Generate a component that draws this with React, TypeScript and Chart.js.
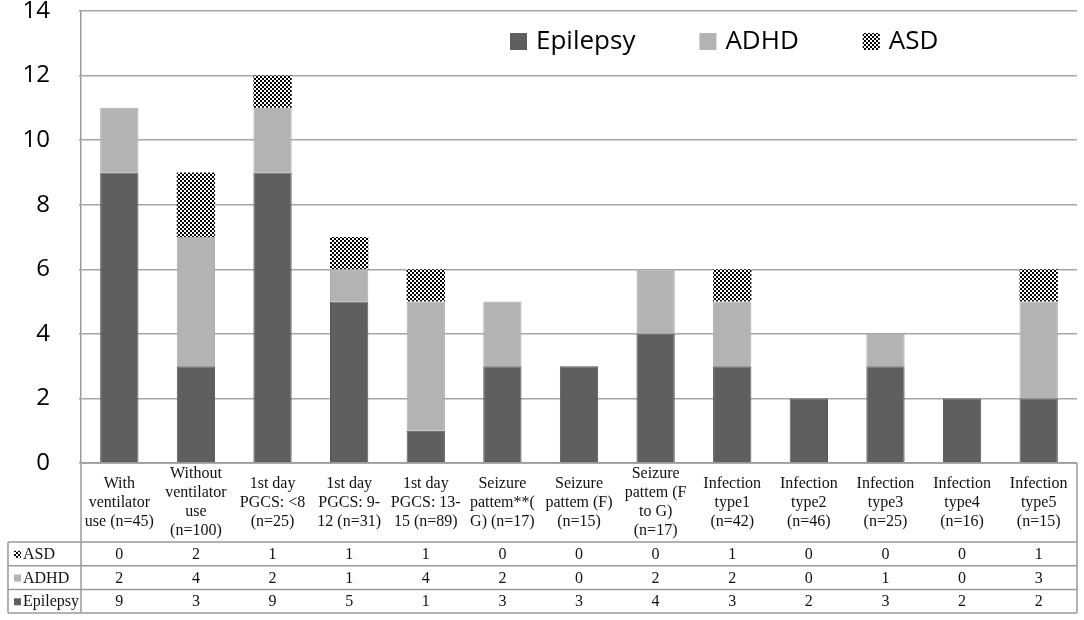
import React, { useEffect, useRef } from "react";
import { Chart, registerables } from "chart.js";

Chart.register(...registerables);

const categories: string[][] = [
  ["With", "ventilator", "use (n=45)"],
  ["Without", "ventilator", "use", "(n=100)"],
  ["1st day", "PGCS: <8", "(n=25)"],
  ["1st day", "PGCS: 9-", "12 (n=31)"],
  ["1st day", "PGCS: 13-", "15 (n=89)"],
  ["Seizure", "pattem**(", "G) (n=17)"],
  ["Seizure", "pattem (F)", "(n=15)"],
  ["Seizure", "pattem (F", "to G)", "(n=17)"],
  ["Infection", "type1", "(n=42)"],
  ["Infection", "type2", "(n=46)"],
  ["Infection", "type3", "(n=25)"],
  ["Infection", "type4", "(n=16)"],
  ["Infection", "type5", "(n=15)"],
];

const epilepsy = [9, 3, 9, 5, 1, 3, 3, 4, 3, 2, 3, 2, 2];
const adhd = [2, 4, 2, 1, 4, 2, 0, 2, 2, 0, 1, 0, 3];
const asd = [0, 2, 1, 1, 1, 0, 0, 0, 1, 0, 0, 0, 1];

const seriesNames = ["Epilepsy", "ADHD", "ASD"];
const yTicks = [0, 2, 4, 6, 8, 10, 12, 14];

const DARK = "#5f5f5f";
const LIGHT = "#b3b3b3";
const GRID = "#a6a6a6";
const LINE = "#9a9a9a";

function makeChecker(ctx: CanvasRenderingContext2D): CanvasPattern | string {
  const c = document.createElement("canvas");
  c.width = 4;
  c.height = 4;
  const g = c.getContext("2d");
  if (!g) return "#333";
  g.fillStyle = "#ffffff";
  g.fillRect(0, 0, 4, 4);
  g.fillStyle = "#000000";
  g.fillRect(0, 0, 2, 2);
  g.fillRect(2, 2, 2, 2);
  return ctx.createPattern(c, "repeat") || "#333";
}

export default function App() {
  const ref = useRef<HTMLCanvasElement | null>(null);

  useEffect(() => {
    const canvas = ref.current;
    if (!canvas) return;
    const ctx0 = canvas.getContext("2d")!;
    const checker = makeChecker(ctx0);
    const fills: (string | CanvasPattern)[] = [DARK, LIGHT, checker];
    const tableValues = [asd, adhd, epilepsy];
    const tableNames = ["ASD", "ADHD", "Epilepsy"];
    const tableFills = [checker, LIGHT, DARK];

    const overlay = {
      id: "overlay",
      afterDraw(chart: any) {
        const { ctx, chartArea } = chart;
        const xs = chart.scales.x;
        const left = chartArea.left;
        const right = chartArea.right;
        const top = chartArea.bottom;
        const labelBottom = top + 79;
        const rowH = 23.7;
        const tableLeft = 8;
        const tableBottom = labelBottom + rowH * 3;
        ctx.save();
        ctx.strokeStyle = LINE;
        ctx.lineWidth = 1.5;
        const hline = (y: number, x1: number, x2: number) => {
          ctx.beginPath();
          ctx.moveTo(x1, y);
          ctx.lineTo(x2, y);
          ctx.stroke();
        };
        const vline = (x: number, y1: number, y2: number) => {
          ctx.beginPath();
          ctx.moveTo(x, y1);
          ctx.lineTo(x, y2);
          ctx.stroke();
        };
        hline(top, left, right);
        for (let r = 0; r <= 3; r++) hline(labelBottom + r * rowH, tableLeft, right);
        vline(left, top, tableBottom);
        vline(right, top, tableBottom);
        vline(tableLeft, labelBottom, tableBottom);

        // category labels
        ctx.fillStyle = "#111";
        ctx.font = '16px "Liberation Serif", "DejaVu Serif", serif';
        ctx.textAlign = "center";
        ctx.textBaseline = "middle";
        const lh = 19;
        const midY = (top + labelBottom) / 2;
        categories.forEach((lines, i) => {
          const cx = xs.getPixelForValue(i);
          const start = midY - ((lines.length - 1) * lh) / 2;
          lines.forEach((t, k) => ctx.fillText(t, cx, start + k * lh));
        });

        // rows
        tableValues.forEach((vals, r) => {
          const cy = labelBottom + rowH * r + rowH / 2;
          ctx.fillStyle = tableFills[r] as any;
          ctx.fillRect(tableLeft + 6, cy - 3, 7, 7);
          ctx.fillStyle = "#111";
          ctx.textAlign = "left";
          ctx.fillText(tableNames[r], tableLeft + 15, cy + 1);
          ctx.textAlign = "center";
          vals.forEach((v, i) => {
            ctx.fillText(String(v), xs.getPixelForValue(i), cy + 1);
          });
        });

        // legend
        ctx.font = '26px "Open Sans", "Noto Sans", sans-serif';
        ctx.textAlign = "left";
        let lx = 510;
        const ly = 41;
        seriesNames.forEach((name, i) => {
          ctx.fillStyle = fills[i] as any;
          ctx.fillRect(lx, ly - 8, 17, 17);
          ctx.fillStyle = "#000";
          ctx.fillText(name, lx + 26, ly + 1);
          lx += 26 + ctx.measureText(name).width + 64;
        });
        ctx.restore();
      },
    };

    const chart = new Chart(canvas, {
      type: "bar",
      data: {
        labels: categories.map((c) => c.join(" ")),
        datasets: [
          { label: seriesNames[0], data: epilepsy, backgroundColor: DARK, borderColor: "#555555", borderWidth: 1 },
          { label: seriesNames[1], data: adhd, backgroundColor: LIGHT, borderColor: "#aaaaaa", borderWidth: 1 },
          { label: seriesNames[2], data: asd, backgroundColor: checker as any, borderWidth: 0 },
        ],
      },
      options: {
        responsive: false,
        animation: false,
        devicePixelRatio: 1,
        layout: { padding: { top: 11, right: 7, bottom: 157, left: 0 } },
        plugins: { legend: { display: false }, tooltip: { enabled: false } },
        datasets: { bar: { categoryPercentage: 1, barPercentage: 0.5 } },
        scales: {
          x: { stacked: true, display: false },
          y: {
            stacked: true,
            min: 0,
            max: 14,
            afterBuildTicks: (s: any) => {
              s.ticks = yTicks.map((v) => ({ value: v }));
            },
            afterFit: (s: any) => {
              s.width = 81;
              s.paddingTop = 0;
              s.paddingBottom = 0;
            },
            grid: { color: GRID, lineWidth: 1.5, tickLength: 2, drawTicks: true },
            border: { display: true, color: LINE, width: 1.5 },
            ticks: {
              padding: 29,
              color: "#000",
              font: { family: '"Open Sans", "Noto Sans", sans-serif', size: 24 },
            },
          },
        },
      },
      plugins: [overlay],
    });
    return () => chart.destroy();
  }, []);

  return (
    <div style={{ position: "fixed", left: 0, top: 0, width: 1084, height: 620, background: "#fff" }}>
      <canvas ref={ref} width={1084} height={620} style={{ display: "block" }} />
    </div>
  );
}
